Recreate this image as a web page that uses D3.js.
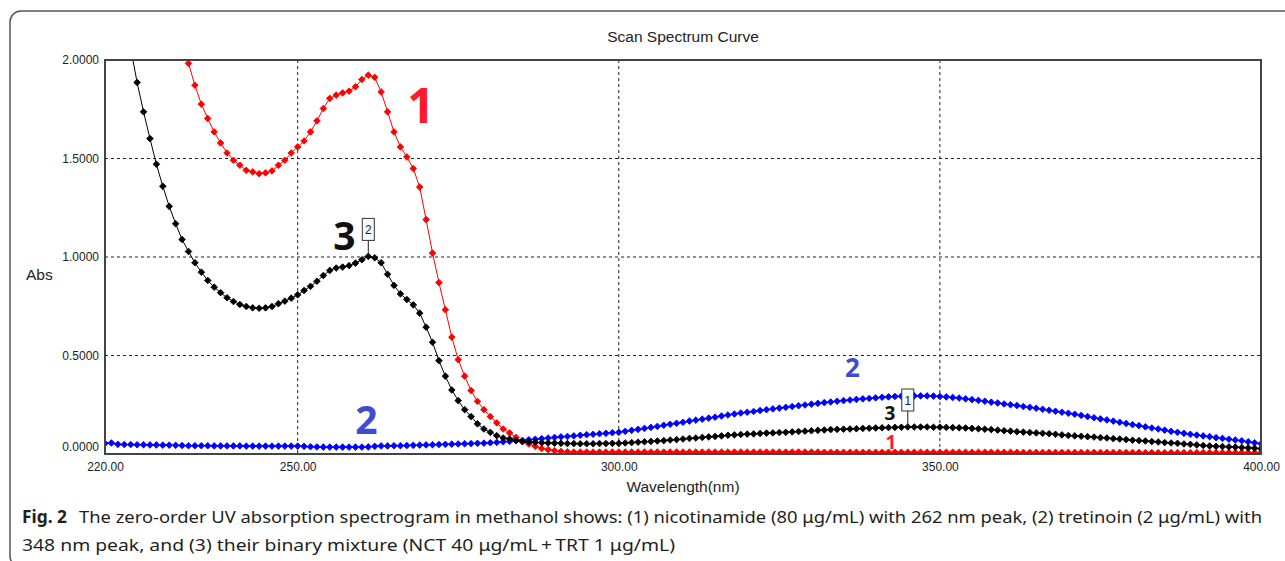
<!DOCTYPE html>
<html>
<head>
<meta charset="UTF-8">
<title>Scan Spectrum Curve</title>
<script src="https://d3js.org/d3.v7.min.js"></script>
<style>
    body {
        margin: 0;
        background: #fff;
    }

    svg {
        display: block;
    }

    .tick text {
        font-family: "Liberation Sans", Arial, sans-serif;
        font-size: 12px;
        fill: #222;
    }

    text.axis-title {
        font-family: "Liberation Sans", Arial, sans-serif;
        font-size: 15.5px;
        fill: #222;
    }

    .grid line {
        stroke: #222;
        stroke-width: 1;
        stroke-dasharray: 3 3;
    }

    text.big {
        font-family: "Open Sans", sans-serif;
        font-weight: 700;
    }

    text.caption {
        font-family: "Noto Sans", sans-serif;
        font-size: 17px;
        fill: #231f20;
    }
</style>
</head>
<body>
<svg width="1285" height="561"></svg>
<script>
    // axis ticks and grid
    const xTicks = [220, 250, 300, 350, 400];
    const yTicks = [0, 0.5, 1, 1.5, 2];
    const xGrid = [250, 300, 350];
    const yGrid = [0.5, 1, 1.5];

    // (2) tretinoin, blue, 220-400 nm every 1 nm
    const blueStart = 220;
    const blueAbs = [
        0.054, 0.056, 0.049, 0.048, 0.048, 0.047, 0.047, 0.046, 0.046, 0.045,
        0.045, 0.044, 0.043, 0.042, 0.042, 0.042, 0.042, 0.041, 0.041, 0.041,
        0.041, 0.041, 0.040, 0.040, 0.040, 0.040, 0.040, 0.040, 0.040, 0.040,
        0.040, 0.039, 0.037, 0.036, 0.035, 0.035, 0.035, 0.035, 0.035, 0.035,
        0.035, 0.036, 0.039, 0.041, 0.041, 0.042, 0.042, 0.043, 0.044, 0.045,
        0.046, 0.047, 0.048, 0.049, 0.050, 0.051, 0.052, 0.053, 0.054, 0.055,
        0.057, 0.059, 0.062, 0.064, 0.067, 0.069, 0.072, 0.075, 0.078, 0.081,
        0.084, 0.087, 0.089, 0.092, 0.095, 0.098, 0.100, 0.103, 0.105, 0.108,
        0.110, 0.115, 0.120, 0.125, 0.130, 0.135, 0.140, 0.146, 0.151, 0.156,
        0.161, 0.167, 0.172, 0.177, 0.182, 0.187, 0.193, 0.198, 0.203, 0.208,
        0.212, 0.216, 0.221, 0.225, 0.229, 0.233, 0.237, 0.241, 0.245, 0.249,
        0.253, 0.257, 0.261, 0.264, 0.268, 0.271, 0.274, 0.277, 0.280, 0.282,
        0.285, 0.288, 0.290, 0.292, 0.293, 0.294, 0.295, 0.295, 0.295, 0.294,
        0.292, 0.290, 0.287, 0.284, 0.280, 0.276, 0.272, 0.268, 0.263, 0.259,
        0.254, 0.250, 0.246, 0.241, 0.237, 0.232, 0.227, 0.222, 0.217, 0.212,
        0.207, 0.202, 0.196, 0.190, 0.184, 0.178, 0.173, 0.167, 0.161, 0.155,
        0.149, 0.144, 0.138, 0.132, 0.127, 0.121, 0.115, 0.110, 0.105, 0.100,
        0.096, 0.092, 0.088, 0.083, 0.079, 0.075, 0.071, 0.067, 0.062, 0.057,
        0.052
    ];

    // (3) binary mixture, black, 224-400 nm
    const blackStart = 224;
    const blackAbs = [
        2.060, 1.886, 1.737, 1.601, 1.471, 1.359, 1.257, 1.169, 1.089, 1.028,
        0.971, 0.923, 0.881, 0.847, 0.819, 0.793, 0.774, 0.759, 0.749, 0.742,
        0.740, 0.742, 0.749, 0.763, 0.776, 0.791, 0.808, 0.830, 0.851, 0.877,
        0.906, 0.932, 0.944, 0.949, 0.956, 0.969, 0.986, 1.003, 0.996, 0.971,
        0.912, 0.856, 0.813, 0.784, 0.757, 0.715, 0.644, 0.567, 0.474, 0.395,
        0.325, 0.271, 0.225, 0.190, 0.153, 0.127, 0.110, 0.093, 0.081, 0.076,
        0.068, 0.063, 0.061, 0.059, 0.057, 0.056, 0.055, 0.054, 0.053, 0.053,
        0.052, 0.052, 0.052, 0.053, 0.053, 0.054, 0.054, 0.056, 0.058, 0.060,
        0.062, 0.064, 0.066, 0.068, 0.071, 0.073, 0.076, 0.079, 0.081, 0.084,
        0.087, 0.089, 0.092, 0.095, 0.097, 0.099, 0.101, 0.102, 0.104, 0.106,
        0.107, 0.109, 0.110, 0.112, 0.114, 0.116, 0.118, 0.120, 0.122, 0.124,
        0.125, 0.126, 0.127, 0.128, 0.130, 0.131, 0.132, 0.133, 0.134, 0.135,
        0.136, 0.137, 0.137, 0.137, 0.137, 0.136, 0.136, 0.135, 0.134, 0.133,
        0.132, 0.130, 0.128, 0.126, 0.124, 0.121, 0.118, 0.116, 0.113, 0.111,
        0.109, 0.107, 0.105, 0.103, 0.100, 0.097, 0.094, 0.092, 0.090, 0.088,
        0.086, 0.083, 0.081, 0.078, 0.076, 0.073, 0.070, 0.068, 0.066, 0.063,
        0.061, 0.058, 0.056, 0.054, 0.051, 0.049, 0.046, 0.043, 0.041, 0.039,
        0.038, 0.036, 0.035, 0.033, 0.031, 0.029, 0.027
    ];

    // (1) nicotinamide, red, 232-400 nm
    const redStart = 232;
    const redAbs = [
        2.110, 1.983, 1.872, 1.776, 1.703, 1.635, 1.579, 1.528, 1.491, 1.466,
        1.440, 1.432, 1.423, 1.427, 1.437, 1.466, 1.491, 1.528, 1.559, 1.589,
        1.635, 1.691, 1.754, 1.805, 1.822, 1.833, 1.842, 1.864, 1.901, 1.923,
        1.912, 1.838, 1.737, 1.635, 1.559, 1.508, 1.449, 1.355, 1.190, 1.020,
        0.870, 0.732, 0.593, 0.479, 0.395, 0.322, 0.267, 0.225, 0.190, 0.158,
        0.127, 0.107, 0.084, 0.063, 0.051, 0.039, 0.028, 0.022, 0.017, 0.013,
        0.011, 0.010, 0.010, 0.010, 0.010, 0.010, 0.010, 0.010, 0.010, 0.010,
        0.010, 0.010, 0.010, 0.010, 0.010, 0.010, 0.010, 0.010, 0.010, 0.010,
        0.010, 0.010, 0.010, 0.010, 0.010, 0.010, 0.010, 0.010, 0.010, 0.010,
        0.010, 0.010, 0.010, 0.010, 0.010, 0.010, 0.010, 0.010, 0.010, 0.010,
        0.009, 0.009, 0.009, 0.009, 0.009, 0.009, 0.009, 0.009, 0.009, 0.009,
        0.009, 0.009, 0.009, 0.009, 0.009, 0.009, 0.009, 0.009, 0.009, 0.009,
        0.009, 0.009, 0.009, 0.009, 0.009, 0.009, 0.009, 0.009, 0.009, 0.009,
        0.008, 0.008, 0.008, 0.008, 0.008, 0.008, 0.008, 0.008, 0.008, 0.008,
        0.008, 0.008, 0.008, 0.008, 0.008, 0.008, 0.008, 0.008, 0.008, 0.008,
        0.007, 0.007, 0.007, 0.007, 0.007, 0.007, 0.007, 0.007, 0.007, 0.007,
        0.007, 0.007, 0.007, 0.007, 0.007, 0.007, 0.007, 0.007, 0.007
    ];

    // peak picks on the mixture curve
    const peakNm = [261, 345];
    const peakNo = ["2", "1"];

    const series = [
        { start: redStart, values: redAbs, color: "#ff0000" },
        { start: blueStart, values: blueAbs, color: "#0000ff" },
        { start: blackStart, values: blackAbs, color: "#000000" }
    ];

    const svg = d3.select("svg");
    const margin = { top: 60, right: 24, bottom: 107, left: 105 };
    const width = 1285 - margin.left - margin.right;
    const height = 561 - margin.top - margin.bottom;
    const x = d3.scaleLinear().domain([220, 400]).range([margin.left, margin.left + width]);
    const y = d3.scaleLinear().domain([0, 2]).range([margin.top + height, margin.top]);

    // outer panel frame
    svg.append("rect")
        .attr("x", 10).attr("y", 11)
        .attr("width", 1300).attr("height", 556)
        .attr("rx", 11)
        .attr("fill", "none")
        .attr("stroke", "#555")
        .attr("stroke-width", 1.5);

    svg.append("text")
        .attr("class", "axis-title")
        .attr("x", margin.left + width / 2)
        .attr("y", 41.5)
        .attr("text-anchor", "middle")
        .text("Scan Spectrum Curve");

    // grid
    const grid = svg.append("g").attr("class", "grid");
    grid.selectAll(".gx").data(xGrid).enter().append("line")
        .attr("x1", d => x(d)).attr("x2", d => x(d))
        .attr("y1", margin.top).attr("y2", margin.top + height);
    grid.selectAll(".gy").data(yGrid).enter().append("line")
        .attr("x1", margin.left).attr("x2", margin.left + width)
        .attr("y1", d => y(d)).attr("y2", d => y(d));

    // axes
    const xAxis = svg.append("g")
        .attr("transform", `translate(0,${margin.top + height})`)
        .call(d3.axisBottom(x).tickValues(xTicks).tickSize(0).tickPadding(8).tickFormat(d3.format(".2f")));
    xAxis.select(".domain").remove();

    const yAxis = svg.append("g")
        .attr("transform", `translate(${margin.left},0)`)
        .call(d3.axisLeft(y).tickValues(yTicks).tickSize(0).tickPadding(6).tickFormat(d3.format(".4f")));
    yAxis.select(".domain").remove();
    yAxis.selectAll(".tick").filter(d => d === 0).select("text").attr("y", -7);

    svg.append("text")
        .attr("class", "axis-title")
        .attr("x", 26).attr("y", 280)
        .text("Abs");

    svg.append("text")
        .attr("class", "axis-title")
        .attr("x", margin.left + width / 2).attr("y", 492)
        .attr("text-anchor", "middle")
        .text("Wavelength(nm)");

    // curves
    svg.append("clipPath").attr("id", "plot-clip")
        .append("rect")
        .attr("x", margin.left).attr("y", margin.top)
        .attr("width", width).attr("height", height);

    const plot = svg.append("g").attr("clip-path", "url(#plot-clip)");
    const line = d3.line().x(d => x(d.nm)).y(d => y(d.abs));
    const marker = d3.symbol(d3.symbolSquare, 22);

    series.forEach(s => {
        const pts = s.values.map((v, i) => ({ nm: s.start + i, abs: v }));
        plot.append("path")
            .datum(pts)
            .attr("d", line)
            .attr("fill", "none")
            .attr("stroke", s.color)
            .attr("stroke-width", 1);
        plot.selectAll(null)
            .data(pts)
            .enter().append("path")
            .attr("d", marker)
            .attr("transform", d => `translate(${x(d.nm)},${y(d.abs)}) rotate(45)`)
            .attr("fill", s.color)
            .attr("stroke", s.color)
            .attr("stroke-width", 0.8)
            .attr("stroke-linejoin", "round");
    });

    // plot frame
    svg.append("rect")
        .attr("x", margin.left).attr("y", margin.top)
        .attr("width", width).attr("height", height)
        .attr("fill", "none")
        .attr("stroke", "#444")
        .attr("stroke-width", 2);

    // peak pick boxes
    peakNm.forEach((nm, i) => {
        const px = x(nm);
        const py = y(blackAbs[nm - blackStart]);
        svg.append("line")
            .attr("x1", px).attr("x2", px)
            .attr("y1", py).attr("y2", py - 16)
            .attr("stroke", "#222");
        svg.append("rect")
            .attr("x", px - 6).attr("y", py - 38)
            .attr("width", 12).attr("height", 22)
            .attr("fill", "#f2fdfa")
            .attr("stroke", "#333");
        svg.append("text")
            .attr("x", px).attr("y", py - 22.5)
            .attr("text-anchor", "middle")
            .style("font-family", "Liberation Sans, Arial, sans-serif")
            .style("font-size", "12px")
            .attr("fill", "#222")
            .text(peakNo[i]);
    });

    // curve numbers
    const tags = [
        { t: "1", x: 421, y: 123, size: 48, color: "#ff1a2b" },
        { t: "3", x: 344.5, y: 249.5, size: 39, color: "#111" },
        { t: "2", x: 366.5, y: 433.5, size: 39, color: "#3f4bd1" },
        { t: "2", x: 852.5, y: 377, size: 26, color: "#3f4bd1" },
        { t: "3", x: 890, y: 420, size: 19, color: "#111" },
        { t: "1", x: 891, y: 448.5, size: 19, color: "#ff1a2b" }
    ];
    tags.forEach(d => {
        svg.append("text")
            .attr("class", "big")
            .attr("x", d.x).attr("y", d.y)
            .attr("text-anchor", "middle")
            .style("font-size", d.size + "px")
            .attr("fill", d.color)
            .text(d.t);
    });

    // caption
    svg.append("text")
        .attr("class", "caption")
        .attr("x", 22).attr("y", 523)
        .style("font-weight", 700)
        .attr("textLength", 45)
        .attr("lengthAdjust", "spacingAndGlyphs")
        .text("Fig. 2");
    svg.append("text")
        .attr("class", "caption")
        .attr("x", 79).attr("y", 523)
        .attr("textLength", 1183)
        .attr("lengthAdjust", "spacingAndGlyphs")
        .text("The zero-order UV absorption spectrogram in methanol shows: (1) nicotinamide (80 μg/mL) with 262 nm peak, (2) tretinoin (2 μg/mL) with");
    svg.append("text")
        .attr("class", "caption")
        .attr("x", 22).attr("y", 551)
        .attr("textLength", 653)
        .attr("lengthAdjust", "spacingAndGlyphs")
        .text("348 nm peak, and (3) their binary mixture (NCT 40 μg/mL\u2009+\u2009TRT 1 μg/mL)");
</script>
</body>
</html>
